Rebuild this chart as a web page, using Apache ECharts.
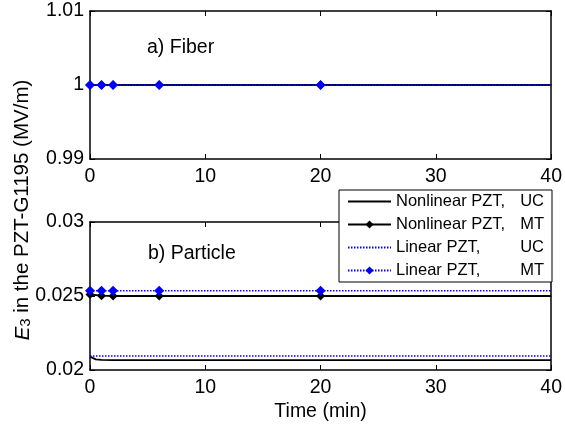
<!DOCTYPE html>
<html><head><meta charset="utf-8">
<script src="https://cdn.jsdelivr.net/npm/echarts@6/dist/echarts.min.js"></script>
<style>html,body{margin:0;padding:0;background:#fff}#c{width:565px;height:425px}</style>
</head><body><div id="c"></div>
<script>
// ---- data ----
const seriesNames = ['Nonlinear PZT, UC', 'Nonlinear PZT, MT', 'Linear PZT, UC', 'Linear PZT, MT'];
const timeUC = [0, 0.5, 1, 2, 6, 20, 40];
const timeMT = [0, 1, 2, 6, 20, 40];
// a) Fiber
const fiberNonlinearUC = [1, 1, 1, 1, 1, 1, 1];
const fiberNonlinearMT = [1, 1, 1, 1, 1, 1];
const fiberLinearUC    = [1, 1, 1, 1, 1, 1, 1];
const fiberLinearMT    = [1, 1, 1, 1, 1, 1];
// b) Particle
const partNonlinearUC = [0.02090, 0.02072, 0.02068, 0.02067, 0.02067, 0.02067, 0.02067];
const partNonlinearMT = [0.02510, 0.02502, 0.02500, 0.02500, 0.02500, 0.02500];
const partLinearUC    = [0.02095, 0.02095, 0.02095, 0.02095, 0.02095, 0.02095, 0.02095];
const partLinearMT    = [0.02536, 0.02536, 0.02536, 0.02536, 0.02536, 0.02536];
const xTicks = [0, 10, 20, 30, 40];
const fiberTicks = [0.99, 1, 1.01];
const partTicks = [0.02, 0.025, 0.03];
const panelLabels = ['a) Fiber', 'b) Particle'];
const yTitle = ['E', '3', ' in the PZT-G1195 (MV/m)'];
const xTitle = 'Time (min)';

const FONT = 'Liberation Sans, Arial, sans-serif';
const FS = 19.5;
const chart = echarts.init(document.getElementById('c'), null, {renderer: 'canvas'});

function pairs(xs, ys, hideLast) {
  return xs.map((x, i) => {
    if (hideLast && i === xs.length - 1) return {value: [x, ys[i]], symbol: 'none'};
    return [x, ys[i]];
  });
}
const BLUE = '#0000ff', BLACK = '#000000';
function makeSeries(gi, nUC, nMT, lUC, lMT) {
  return [
    {name: seriesNames[0], type: 'line', xAxisIndex: gi*2, yAxisIndex: gi*2, data: pairs(timeUC, nUC),
     symbol: 'none', lineStyle: {color: BLACK, width: 1.8}, itemStyle: {color: BLACK}},
    {name: seriesNames[1], type: 'line', xAxisIndex: gi*2, yAxisIndex: gi*2, data: pairs(timeMT, nMT, true),
     symbol: 'diamond', symbolSize: 9, showAllSymbol: true, lineStyle: {color: BLACK, width: 1.8}, itemStyle: {color: BLACK}},
    {name: seriesNames[2], type: 'line', xAxisIndex: gi*2, yAxisIndex: gi*2, data: pairs(timeUC, lUC),
     symbol: 'none', lineStyle: {color: BLUE, width: 1.5, type: [1.5, 1.5]}, itemStyle: {color: BLUE}},
    {name: seriesNames[3], type: 'line', xAxisIndex: gi*2, yAxisIndex: gi*2, data: pairs(timeMT, lMT, true),
     symbol: 'diamond', symbolSize: 10, showAllSymbol: true, lineStyle: {color: BLUE, width: 1.5, type: [1.5, 1.5]}, itemStyle: {color: BLUE}}
  ];
}

const axisLineS = {show: true, lineStyle: {color: '#000', width: 1.5}};
const tickS = {show: true, inside: true, length: 5, lineStyle: {color: '#000', width: 1}};
const labS = {color: '#000', fontFamily: FONT, fontSize: FS};

function xAxes(gi) {
  return [
    {type: 'value', gridIndex: gi, min: xTicks[0], max: xTicks[xTicks.length-1], interval: xTicks[1]-xTicks[0],
     axisLine: axisLineS, axisTick: tickS, splitLine: {show: false},
     axisLabel: Object.assign({margin: 8}, labS),
     name: gi === 1 ? xTitle : '', nameLocation: 'middle', nameGap: 32,
     nameTextStyle: {color: '#000', fontFamily: FONT, fontSize: FS}},
    {type: 'value', gridIndex: gi, position: 'top', min: xTicks[0], max: xTicks[xTicks.length-1], interval: xTicks[1]-xTicks[0],
     axisLine: Object.assign({onZero: false}, axisLineS), axisTick: tickS, splitLine: {show: false}, axisLabel: {show: false}}
  ];
}
function yAxes(gi, ticks) {
  return [
    {type: 'value', gridIndex: gi, min: ticks[0], max: ticks[ticks.length-1], interval: ticks[1]-ticks[0],
     axisLine: Object.assign({onZero: false}, axisLineS), axisTick: tickS, splitLine: {show: false},
     axisLabel: Object.assign({margin: 6, formatter: v => String(+v.toFixed(4))}, labS)},
    {type: 'value', gridIndex: gi, position: 'right', min: ticks[0], max: ticks[ticks.length-1], interval: ticks[1]-ticks[0],
     axisLine: Object.assign({onZero: false}, axisLineS), axisTick: tickS, splitLine: {show: false}, axisLabel: {show: false}}
  ];
}

const option = {
  animation: false,
  backgroundColor: '#fff',
  textStyle: {fontFamily: FONT},
  grid: [
    {left: 90, top: 11, width: 462, height: 148},
    {left: 90, top: 222, width: 462, height: 148}
  ],
  xAxis: [...xAxes(0), ...xAxes(1)],
  yAxis: [...yAxes(0, fiberTicks), ...yAxes(1, partTicks)],
  legend: {
    data: seriesNames.map((n, i) => (i % 2 === 0 ? {name: n, itemStyle: {opacity: 0}} : {name: n})),
    orient: 'vertical', left: 339, top: 190,
    backgroundColor: '#fff', borderColor: '#000', borderWidth: 1, borderRadius: 0,
    padding: [3, 8, 3, 8], itemGap: 6, itemWidth: 43, itemHeight: 10,
    formatter: name => {
      const p = name.split(', ');
      return '{a|' + p[0] + ',}{b|' + p[1] + '}';
    },
    textStyle: {
      color: '#000', fontFamily: FONT, fontSize: 16.5,
      rich: {
        a: {width: 110, fontSize: 16.5, fontFamily: FONT, color: '#000'},
        b: {width: 38, align: 'right', fontSize: 16.5, fontFamily: FONT, color: '#000'}
      }
    }
  },
  graphic: [
    {type: 'text', left: 147, top: 38, silent: true,
     style: {text: panelLabels[0], fill: '#000', font: FS + 'px ' + FONT}},
    {type: 'text', left: 148, top: 244, silent: true,
     style: {text: panelLabels[1], fill: '#000', font: FS + 'px ' + FONT}},
    {type: 'text', x: 22, y: 210, rotation: Math.PI / 2, silent: true,
     style: {
       text: '{e|' + yTitle[0] + '}{s|' + yTitle[1] + '}{n|' + yTitle[2] + '}',
       align: 'center', verticalAlign: 'middle',
       rich: {
         e: {fontFamily: FONT, fontSize: 20.5, fontStyle: 'italic', fill: '#000', verticalAlign: 'bottom', lineHeight: 22},
         s: {fontFamily: FONT, fontSize: 14.5, fill: '#000', padding: [9, 0, 0, 0], verticalAlign: 'bottom', lineHeight: 22},
         n: {fontFamily: FONT, fontSize: 20.5, fill: '#000', verticalAlign: 'bottom', lineHeight: 22}
       }
     }}
  ],
  series: [
    ...makeSeries(0, fiberNonlinearUC, fiberNonlinearMT, fiberLinearUC, fiberLinearMT),
    ...makeSeries(1, partNonlinearUC, partNonlinearMT, partLinearUC, partLinearMT)
  ]
};
chart.setOption(option);
</script></body></html>
